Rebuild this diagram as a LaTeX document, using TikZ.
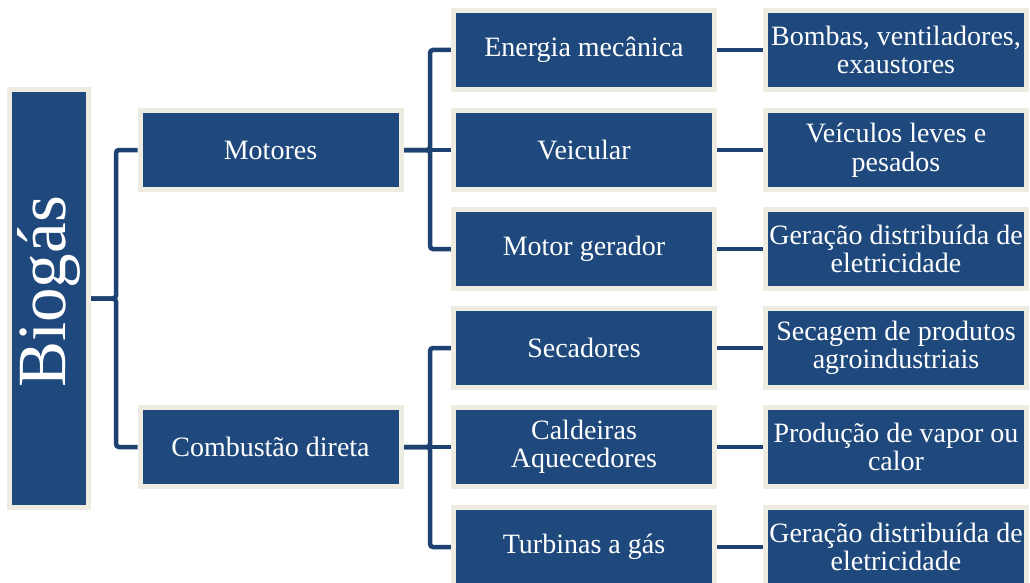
\documentclass[tikz,border=0pt]{standalone}
\usepackage{fontspec}
\setmainfont{Liberation Serif}
\usetikzlibrary{positioning, backgrounds}
\definecolor{boxblue}{RGB}{31,73,125}
\definecolor{linkblue}{RGB}{29,66,114}
\definecolor{boxcream}{RGB}{238,236,225}

\begin{document}
\begin{tikzpicture}[
    x=100pt, y=-100pt,
    block/.style={draw=boxcream, fill=boxblue, line width=5pt, rectangle, minimum height=79pt, minimum width=261pt, align=center, inner sep=0pt, text=white, font=\fontsize{28}{28.5}\selectfont},
    link/.style={draw=linkblue, line width=4.5pt, rounded corners=3pt}
]
\useasboundingbox (0,0) rectangle (10.30,5.83);

% Root
\node[block, minimum width=79pt, minimum height=418pt] (bio) at (0.49,2.985) {};
\node[rotate=90, text=white, font=\fontsize{69}{69}\selectfont] (biotext) at (0.49,2.92) {Biogás};

% Uses
\node[block] (motores) at (2.705,1.50) {Motores};
\node[block] (comb) at (2.705,4.47) {Combustão direta};

% Applications
\node[block] (energia) at (5.84,0.50) {Energia mecânica};
\node[block] (veicular) at (5.84,1.50) {Veicular};
\node[block] (gerador) at (5.84,2.49) {Motor gerador};
\node[block] (secadores) at (5.84,3.48) {Secadores};
\node[block] (caldeiras) at (5.84,4.47) {Caldeiras\\Aquecedores};
\node[block] (turbinas) at (5.84,5.47) {Turbinas a gás};

% Results
\node[block] (bombas) at (8.96,0.50) {Bombas, ventiladores,\\exaustores};
\node[block] (veiculos) at (8.96,1.50) {Veículos leves e\\pesados};
\node[block] (geracao1) at (8.96,2.49) {Geração distribuída de\\eletricidade};
\node[block] (secagem) at (8.96,3.48) {Secagem de produtos\\agroindustriais};
\node[block] (vapor) at (8.96,4.47) {Produção de vapor ou\\calor};
\node[block] (geracao2) at (8.96,5.47) {Geração distribuída de\\eletricidade};

% Connectors
\begin{scope}[on background layer]
\draw[link] (bio.east) -- ++(0.25,0) |- (motores.west);
\draw[link] (bio.east) -- ++(0.25,0) |- (comb.west);

\draw[link] (motores.east) -- ++(0.265,0) |- (energia.west);
\draw[link] (motores.east) -- (veicular.west);
\draw[link] (motores.east) -- ++(0.265,0) |- (gerador.west);
\draw[link] (comb.east) -- ++(0.265,0) |- (secadores.west);
\draw[link] (comb.east) -- (caldeiras.west);
\draw[link] (comb.east) -- ++(0.265,0) |- (turbinas.west);

\draw[link] (energia) -- (bombas);
\draw[link] (veicular) -- (veiculos);
\draw[link] (gerador) -- (geracao1);
\draw[link] (secadores) -- (secagem);
\draw[link] (caldeiras) -- (vapor);
\draw[link] (turbinas) -- (geracao2);
\end{scope}

\end{tikzpicture}
\end{document}
